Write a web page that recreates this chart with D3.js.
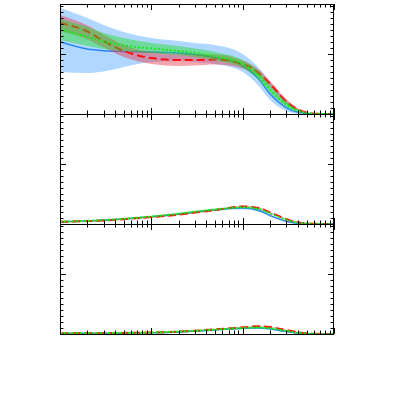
<!DOCTYPE html>
<html><head><meta charset="utf-8">
<script src="https://cdn.jsdelivr.net/npm/d3@7"></script>
<style>html,body{margin:0;padding:0;background:#fff;}svg{display:block;}</style>
</head><body>
<svg id="c" width="393" height="393"></svg>
<script>
// x grid (log scale)
const xs = [0.001,0.002,0.003,0.005,0.01,0.02,0.03,0.05,0.1,0.15,0.2,0.3,0.4,0.5,0.6,0.7,0.8,0.9,1.0];
const xMinorTicks = [0.002,0.003,0.004,0.005,0.006,0.007,0.008,0.009,0.02,0.03,0.04,0.05,0.06,0.07,0.08,0.09,0.2,0.3,0.4,0.5,0.6,0.7,0.8,0.9];
const xMajorTicks = [0.001,0.01,0.1,1];
const yMinorTicks = [0.1,0.2,0.3,0.4,0.5,0.6,0.7,0.8,0.9,1.1,1.2,1.3,1.4,1.5,1.6,1.7,1.8];
const yMajorTicks = [0,1];

// top panel
const topBlue   = [1.205,1.083,1.055,1.042,1.033,1.017,0.992,0.942,0.80,0.583,0.333,0.108,0.028,0.008,0.003,0.001,0,0,0];
const topBlueLo = [0.70,0.683,0.708,0.783,0.867,0.883,0.867,0.833,0.70,0.467,0.233,0.05,0.008,0.002,0,0,0,0,0];
const topBlueHi = [1.767,1.60,1.483,1.367,1.267,1.217,1.183,1.15,1.00,0.767,0.533,0.233,0.083,0.025,0.01,0.006,0.004,0.003,0.003];
const topRed    = [1.517,1.375,1.217,1.05,0.933,0.90,0.90,0.908,0.833,0.683,0.50,0.208,0.075,0.025,0.008,0.003,0.001,0.001,0];
const topRedLo  = [1.383,1.242,1.108,0.95,0.833,0.80,0.808,0.825,0.758,0.625,0.45,0.167,0.05,0.017,0.004,0.001,0,0,0];
const topRedHi  = [1.65,1.475,1.325,1.15,1.033,1.0,0.992,0.992,0.892,0.742,0.55,0.25,0.10,0.033,0.012,0.006,0.004,0.003,0.003];
const topGreen  = [1.412,1.283,1.208,1.142,1.092,1.05,1.017,0.958,0.828,0.633,0.40,0.158,0.058,0.017,0.005,0.002,0.001,0.001,0];
const topGreenLo= [1.233,1.133,1.083,1.05,1.017,0.983,0.95,0.892,0.767,0.567,0.35,0.117,0.025,0.005,0,0,0,0,0];
const topGreenHi= [1.583,1.45,1.35,1.267,1.183,1.133,1.092,1.033,0.9,0.717,0.483,0.208,0.075,0.025,0.018,0.018,0.018,0.018,0.018];

// middle panel
const midBlue   = [0.038,0.05,0.062,0.085,0.12,0.165,0.198,0.235,0.265,0.225,0.14,0.045,0.012,0.004,0.001,0,0,0,0];
const midRed    = [0.036,0.048,0.06,0.081,0.115,0.156,0.19,0.232,0.292,0.267,0.192,0.083,0.028,0.012,0.005,0.002,0.001,0,0];
const midGreen  = [0.04,0.052,0.065,0.088,0.125,0.172,0.205,0.242,0.278,0.25,0.175,0.07,0.022,0.008,0.003,0.001,0,0,0];
const midBandW  = [0.008,0.008,0.008,0.008,0.009,0.01,0.01,0.011,0.011,0.011,0.01,0.008,0.006,0.004,0.003,0.002,0.002,0.002,0.002];

// bottom panel
const botBlue   = [0.010,0.012,0.014,0.017,0.022,0.035,0.048,0.068,0.095,0.10,0.085,0.04,0.015,0.005,0.002,0.001,0,0,0];
const botRed    = [0.010,0.012,0.014,0.018,0.024,0.04,0.055,0.078,0.11,0.13,0.115,0.065,0.03,0.012,0.005,0.002,0.001,0,0];
const botGreen  = [0.011,0.013,0.015,0.019,0.025,0.04,0.053,0.074,0.10,0.11,0.095,0.05,0.02,0.007,0.003,0.001,0,0,0];
const botBandW  = [0.006,0.006,0.006,0.006,0.007,0.008,0.008,0.009,0.009,0.009,0.008,0.007,0.005,0.004,0.003,0.002,0.002,0.002,0.002];

const svg = d3.select("#c");
const L = 60, R = 334;
const panels = [{y0:4,y1:114},{y0:114,y1:224},{y0:224,y1:334}];
const x = d3.scaleLog().domain([0.001,1]).range([L,R]);

const C = {
  blueBand:"#4da6ff", blueLine:"#2a86f5",
  redBand:"#e8384a", redLine:"#ff0f0f",
  greenBand:"#22dd22", greenLine:"#11ee11"
};

function drawPanel(i, series){
  const p = panels[i];
  const y = d3.scaleLinear().domain([0,1.8333]).range([p.y1,p.y0]);
  const cid = "clip"+i;
  svg.append("clipPath").attr("id",cid).append("rect")
    .attr("x",L).attr("y",p.y0).attr("width",R-L).attr("height",p.y1-p.y0);
  const g = svg.append("g").attr("clip-path","url(#"+cid+")");
  const area = d3.area().x((d,k)=>x(xs[k])).y0(d=>y(d[0])).y1(d=>y(d[1])).curve(d3.curveMonotoneX);
  const line = d3.line().x((d,k)=>x(xs[k])).y(d=>y(d)).curve(d3.curveMonotoneX);
  series.forEach(s=>{
    g.append("path").datum(s.lo.map((v,k)=>[v,s.hi[k]])).attr("d",area)
      .attr("fill",s.band).attr("fill-opacity",s.op||0.45).attr("stroke","none");
    const ln = g.append("path").datum(s.c).attr("d",line).attr("fill","none")
      .attr("stroke",s.line).attr("stroke-width",s.w);
    if(s.dash) ln.attr("stroke-dasharray",s.dash);
  });
  // frame
  svg.append("rect").attr("x",L+0.5).attr("y",p.y0+0.5).attr("width",R-L-1).attr("height",p.y1-p.y0)
    .attr("fill","none").attr("stroke","#000").attr("stroke-width",1);
  // y ticks both sides
  const tk = svg.append("g").attr("stroke","#000").attr("stroke-width",1);
  yMinorTicks.forEach(v=>{
    const yy = Math.round(y(v))+0.5;
    tk.append("line").attr("x1",L).attr("x2",L+3.5).attr("y1",yy).attr("y2",yy);
    tk.append("line").attr("x1",R).attr("x2",R-3.5).attr("y1",yy).attr("y2",yy);
  });
  yMajorTicks.forEach(v=>{
    const yy = Math.round(y(v))+0.5;
    tk.append("line").attr("x1",L).attr("x2",L+6).attr("y1",yy).attr("y2",yy);
    tk.append("line").attr("x1",R).attr("x2",R-6).attr("y1",yy).attr("y2",yy);
  });
  // x ticks top and bottom
  xMinorTicks.forEach(v=>{
    const xx = Math.round(x(v))+0.5;
    tk.append("line").attr("x1",xx).attr("x2",xx).attr("y1",p.y0).attr("y2",p.y0+3.5);
    tk.append("line").attr("x1",xx).attr("x2",xx).attr("y1",p.y1).attr("y2",p.y1-3.5);
  });
  xMajorTicks.forEach(v=>{
    const xx = Math.round(x(v))+0.5;
    tk.append("line").attr("x1",xx).attr("x2",xx).attr("y1",p.y0).attr("y2",p.y0+6);
    tk.append("line").attr("x1",xx).attr("x2",xx).attr("y1",p.y1).attr("y2",p.y1-6);
  });
}

const band = (c,w)=>({lo:c.map((v,k)=>Math.max(0,v-w[k])), hi:c.map((v,k)=>v+w[k])});

drawPanel(0,[
  {c:topBlue, lo:topBlueLo, hi:topBlueHi, band:C.blueBand, line:C.blueLine, w:1.5},
  {c:topRed, lo:topRedLo, hi:topRedHi, band:C.redBand, line:C.redLine, w:2, dash:"8,4"},
  {c:topGreen, lo:topGreenLo, hi:topGreenHi, band:C.greenBand, line:C.greenLine, w:2, dash:"2,2"}
]);
drawPanel(1,[
  Object.assign({c:midBlue, band:C.blueBand, line:C.blueLine, w:1.5}, band(midBlue, midBandW.map(v=>v*1.6))),
  Object.assign({c:midRed, band:C.redBand, line:C.redLine, w:2, dash:"8,4", op:0.35}, band(midRed, midBandW)),
  Object.assign({c:midGreen, band:C.greenBand, line:C.greenLine, w:2, dash:"2,2", op:0.35}, band(midGreen, midBandW))
]);
drawPanel(2,[
  Object.assign({c:botBlue, band:C.blueBand, line:C.blueLine, w:1.5}, band(botBlue, botBandW.map(v=>v*1.6))),
  Object.assign({c:botRed, band:C.redBand, line:C.redLine, w:2, dash:"8,4", op:0.35}, band(botRed, botBandW)),
  Object.assign({c:botGreen, band:C.greenBand, line:C.greenLine, w:2, dash:"2,2", op:0.35}, band(botGreen, botBandW))
]);
</script>
</body></html>
